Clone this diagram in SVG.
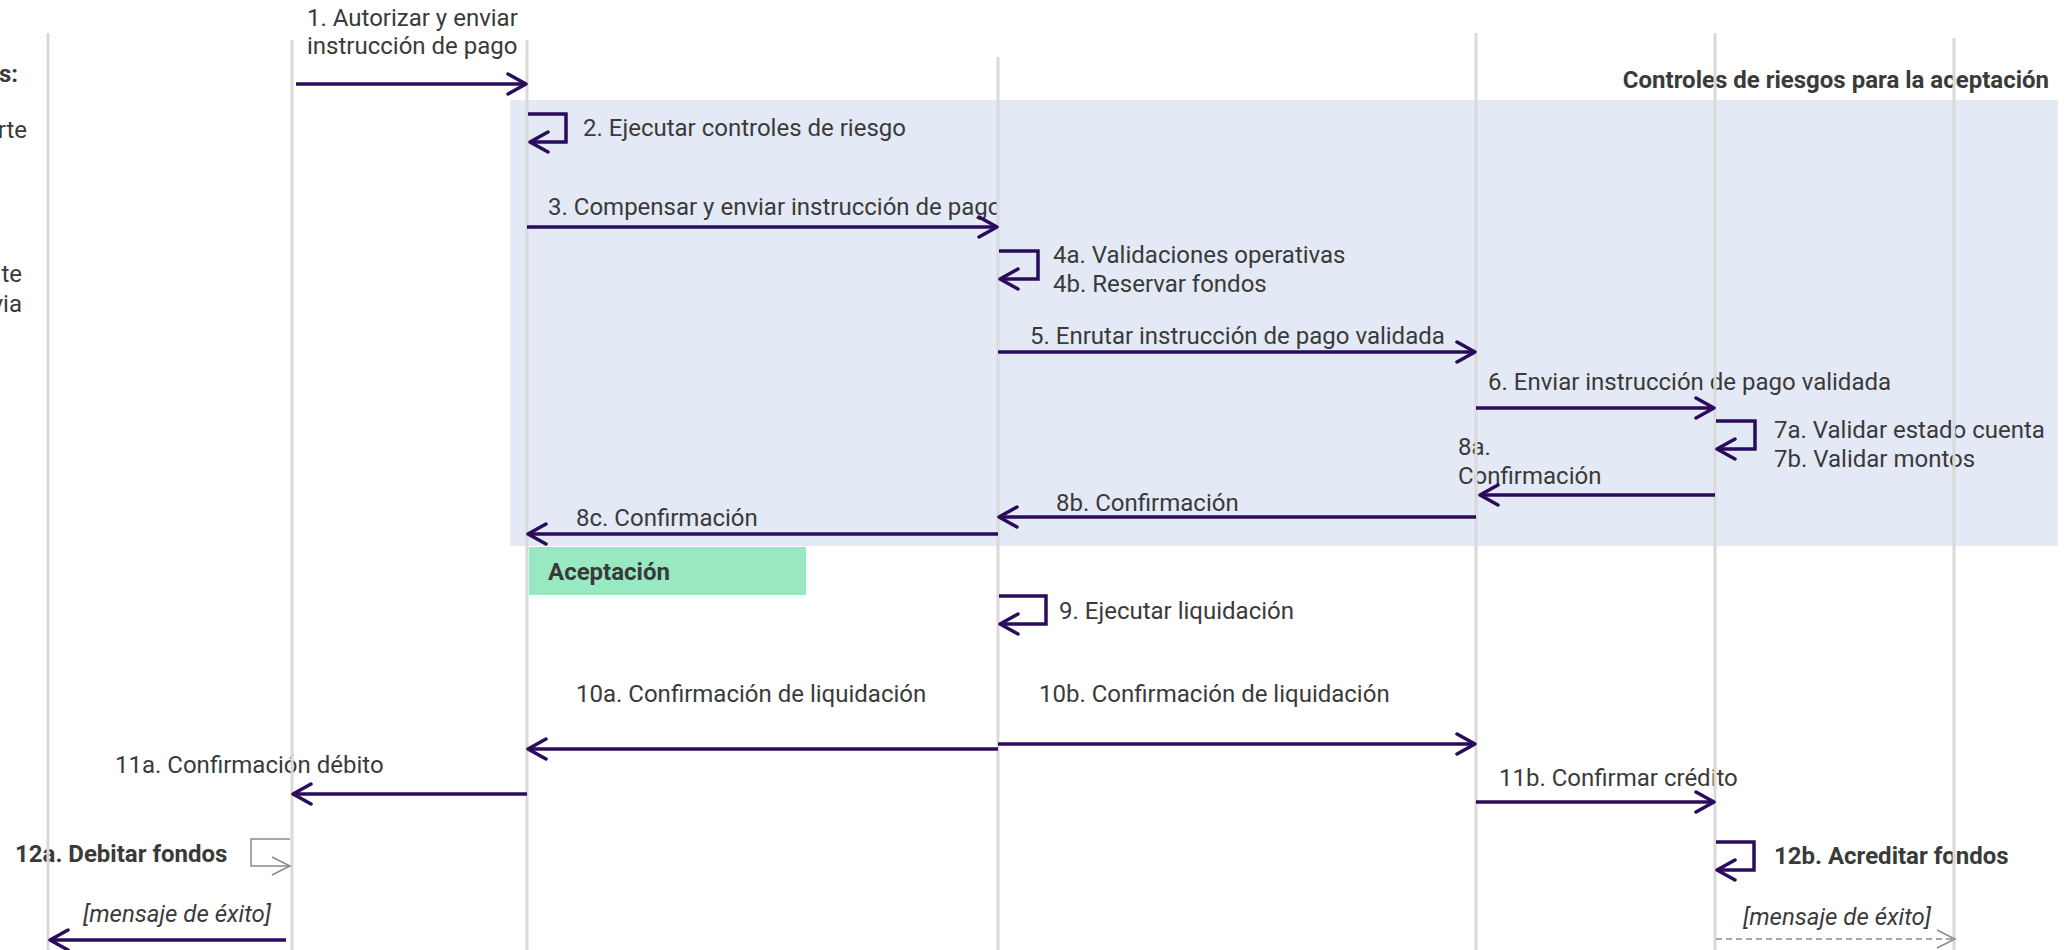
<svg xmlns="http://www.w3.org/2000/svg" width="2072" height="950" viewBox="0 0 2072 950">
  <defs>
    <style>
      .t { font-family: Roboto, "Liberation Sans", sans-serif; font-size: 24px; fill: #3a3a3a; }
      .b { font-weight: 700; }
      .i { font-style: italic; }
      .life { stroke: #d9d9d9; stroke-width: 3; fill: none; }
      .msg { stroke: #2b0c5c; stroke-width: 3.5; fill: none; }
      .ret { stroke: #8a8a8a; stroke-width: 1.5; fill: none; }
      .dash { stroke-dasharray: 6 4; }
    </style>
    <marker id="ah" viewBox="0 0 24 24" refX="21" refY="12" markerWidth="24" markerHeight="24" markerUnits="userSpaceOnUse" orient="auto">
      <path d="M3 2 L21 12 L3 22" fill="none" stroke="#2b0c5c" stroke-width="3.5" stroke-linecap="round" stroke-linejoin="round"/>
    </marker>
    <marker id="ahg" viewBox="0 0 24 24" refX="21" refY="12" markerWidth="24" markerHeight="24" markerUnits="userSpaceOnUse" orient="auto">
      <path d="M3 3 L21 12 L3 21" fill="none" stroke="#8a8a8a" stroke-width="1.5"/>
    </marker>
    <clipPath id="c3"><rect x="500" y="180" width="497" height="60"/></clipPath>
  </defs>

  <rect width="2072" height="950" fill="#ffffff"/>

  <g id="zona-riesgo">
    <rect x="510" y="100" width="1548" height="446" fill="#e3e9f5"/>
    <text class="t b" x="2049" y="88" text-anchor="end">Controles de riesgos para la aceptación</text>
  </g>

  <g id="aceptacion">
    <rect x="529" y="547" width="277" height="48" fill="#98e9c1"/>
    <text class="t b" x="548" y="580">Aceptación</text>
  </g>

  <g id="leyenda-izq">
    <text class="t b" x="18" y="82" text-anchor="end">s:</text>
    <text class="t" x="27" y="138" text-anchor="end">rte</text>
    <text class="t" x="22" y="282" text-anchor="end">te</text>
    <text class="t" x="22" y="312" text-anchor="end">via</text>
  </g>

  <g id="etiquetas">
    <text class="t" x="307" y="26">1. Autorizar y enviar</text>
    <text class="t" x="307" y="54">instrucción de pago</text>
    <text class="t" x="583" y="136">2. Ejecutar controles de riesgo</text>
    <text class="t" x="548" y="215" clip-path="url(#c3)">3. Compensar y enviar instrucción de pago</text>
    <text class="t" x="1053" y="263">4a. Validaciones operativas</text>
    <text class="t" x="1053" y="292">4b. Reservar fondos</text>
    <text class="t" x="1030" y="344">5. Enrutar instrucción de pago validada</text>
    <text class="t" x="1488" y="390">6. Enviar instrucción de pago validada</text>
    <text class="t" x="1774" y="438">7a. Validar estado cuenta</text>
    <text class="t" x="1774" y="467">7b. Validar montos</text>
    <text class="t" x="1458" y="455">8a.</text>
    <text class="t" x="1458" y="484">Confirmación</text>
    <text class="t" x="1056" y="511">8b. Confirmación</text>
    <text class="t" x="576" y="526">8c. Confirmación</text>
    <text class="t" x="1059" y="619">9. Ejecutar liquidación</text>
    <text class="t" x="576" y="702">10a. Confirmación de liquidación</text>
    <text class="t" x="1039" y="702">10b. Confirmación de liquidación</text>
    <text class="t" x="115" y="773">11a. Confirmación débito</text>
    <text class="t" x="1499" y="786">11b. Confirmar crédito</text>
    <text class="t b" x="15" y="862">12a. Debitar fondos</text>
    <text class="t b" x="1774" y="864">12b. Acreditar fondos</text>
    <text class="t i" x="83" y="922">[mensaje de éxito]</text>
    <text class="t i" x="1743" y="925">[mensaje de éxito]</text>
  </g>

  <g id="lifelines">
    <line id="ll1" class="life" x1="48" y1="33" x2="48" y2="950"/>
    <line id="ll2" class="life" x1="292" y1="40" x2="292" y2="950"/>
    <line id="ll3" class="life" x1="527" y1="40" x2="527" y2="950"/>
    <line id="ll4" class="life" x1="998" y1="57" x2="998" y2="950"/>
    <line id="ll5" class="life" x1="1476" y1="33" x2="1476" y2="950"/>
    <line id="ll6" class="life" x1="1715" y1="33" x2="1715" y2="950"/>
    <line id="ll7" class="life" x1="1954" y1="38" x2="1954" y2="950"/>
  </g>

  <g id="connectors">
    <line class="msg" x1="296" y1="84" x2="526" y2="84" marker-end="url(#ah)"/>
    <path class="msg" d="M528 114 H566 V142 H530" marker-end="url(#ah)"/>
    <line class="msg" x1="527" y1="227" x2="997" y2="227" marker-end="url(#ah)"/>
    <path class="msg" d="M999 251 H1038 V279 H1000" marker-end="url(#ah)"/>
    <line class="msg" x1="998" y1="352" x2="1475" y2="352" marker-end="url(#ah)"/>
    <line class="msg" x1="1476" y1="408" x2="1714" y2="408" marker-end="url(#ah)"/>
    <path class="msg" d="M1716 421 H1755 V449 H1717" marker-end="url(#ah)"/>
    <line class="msg" x1="1715" y1="495" x2="1480" y2="495" marker-end="url(#ah)"/>
    <line class="msg" x1="1476" y1="517" x2="999" y2="517" marker-end="url(#ah)"/>
    <line class="msg" x1="998" y1="534" x2="528" y2="534" marker-end="url(#ah)"/>
    <path class="msg" d="M999 596 H1046 V624 H1000" marker-end="url(#ah)"/>
    <line class="msg" x1="998" y1="749" x2="528" y2="749" marker-end="url(#ah)"/>
    <line class="msg" x1="998" y1="744" x2="1475" y2="744" marker-end="url(#ah)"/>
    <line class="msg" x1="527" y1="794" x2="293" y2="794" marker-end="url(#ah)"/>
    <line class="msg" x1="1476" y1="802" x2="1714" y2="802" marker-end="url(#ah)"/>
    <path class="ret" d="M290 839 H251 V866 H290" marker-end="url(#ahg)"/>
    <path class="msg" d="M1716 842 H1754 V870 H1717" marker-end="url(#ah)"/>
    <line class="msg" x1="286" y1="940" x2="50" y2="940" marker-end="url(#ah)"/>
    <line class="ret dash" x1="1716" y1="939" x2="1955" y2="939" marker-end="url(#ahg)"/>
  </g>
</svg>
